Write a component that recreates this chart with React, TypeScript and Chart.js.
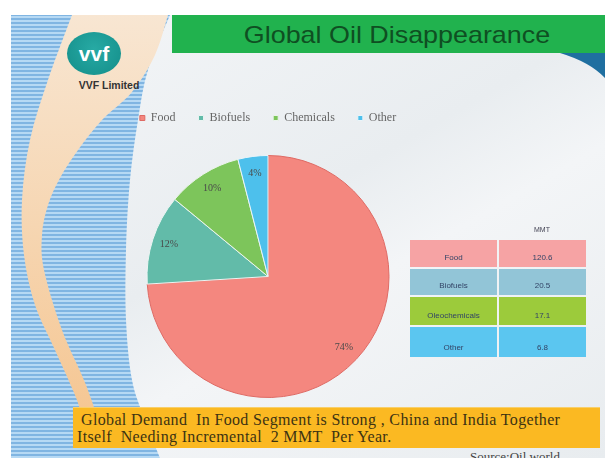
import React, { useEffect, useRef } from "react";
import { Chart, registerables } from "chart.js";

Chart.register(...registerables);

// ---- data ----
const categories = ["Food", "Biofuels", "Chemicals", "Other"];
const shares = [74, 12, 10, 4];
const shareLabels = ["74%", "12%", "10%", "4%"];
const tableHeader = "MMT";
const tableLabels = ["Food", "Biofuels", "Oleochemicals", "Other"];
const tableValues = ["120.6", "20.5", "17.1", "6.8"];

const sliceColors = ["#F4877F", "#62BBA9", "#7DC55B", "#4DC0EC"];
const sliceBorders = ["#DE6A64", "#EAF4F2", "#EAF4EA", "#EAF4F8"];
const tableColors = ["#F6A3A4", "#92C5D7", "#9CCB3B", "#5BC6F0"];

const titleText = "Global Oil Disappearance";
const noteLine1 = "Global Demand  In Food Segment is Strong , China and India Together";
const noteLine2 = "Itself  Needing Incremental  2 MMT  Per Year.";
const sourceText = "Source:Oil world";

function smooth(pts: number[][]): string {
  let d = `M${pts[0][0]},${pts[0][1]}`;
  for (let i = 0; i < pts.length - 1; i++) {
    const p0 = pts[i - 1] || pts[i];
    const p1 = pts[i];
    const p2 = pts[i + 1];
    const p3 = pts[i + 2] || p2;
    const c1x = p1[0] + (p2[0] - p0[0]) / 6;
    const c1y = p1[1] + (p2[1] - p0[1]) / 6;
    const c2x = p2[0] - (p3[0] - p1[0]) / 6;
    const c2y = p2[1] - (p3[1] - p1[1]) / 6;
    d += ` C${c1x},${c1y} ${c2x},${c2y} ${p2[0]},${p2[1]}`;
  }
  return d;
}

const pctPlugin = {
  id: "pctLabels",
  afterDatasetsDraw(chart: any) {
    const ctx = chart.ctx;
    const meta = chart.getDatasetMeta(0);
    ctx.save();
    ctx.font = "10px 'Liberation Serif'";
    ctx.fillStyle = "#4a4a4a";
    ctx.textAlign = "center";
    ctx.textBaseline = "middle";
    meta.data.forEach((arc: any, i: number) => {
      const p = arc.getProps(["x", "y", "startAngle", "endAngle", "outerRadius"], true);
      const mid = (p.startAngle + p.endAngle) / 2;
      const r = p.outerRadius * 0.86;
      ctx.fillText(shareLabels[i], p.x + Math.cos(mid) * r, p.y + Math.sin(mid) * r);
    });
    ctx.restore();
  },
};

// adds a gap below the legend
const legendGap = {
  id: "legendGap",
  beforeInit(chart: any) {
    const legend = chart.legend;
    if (!legend) return;
    const orig = legend.fit;
    legend.fit = function () {
      orig.call(this);
      this.height += 21;
    };
  },
};

function PieChart() {
  const ref = useRef<HTMLCanvasElement>(null);
  useEffect(() => {
    const chart = new Chart(ref.current!, {
      type: "pie",
      data: {
        labels: categories,
        datasets: [
          {
            data: shares,
            backgroundColor: sliceColors,
            borderColor: sliceBorders,
            borderWidth: 1,
          },
        ],
      },
      options: {
        animation: false,
        responsive: false,
        maintainAspectRatio: false,
        layout: { padding: 0 },
        plugins: {
          legend: {
            position: "top",
            labels: {
              font: { family: "'Liberation Serif'", size: 12 },
              color: "#666",
              boxWidth: 5,
              boxHeight: 5,
              padding: 23,
            },
          },
          tooltip: { enabled: false },
        },
      },
      plugins: [legendGap, pctPlugin],
    });
    return () => chart.destroy();
  }, []);
  return (
    <canvas
      ref={ref}
      width={320}
      height={309}
      style={{ position: "absolute", left: 108, top: 89, width: 320, height: 309 }}
    />
  );
}

export default function App() {
  const peach = smooth([
    [72, 15], [48, 80], [30, 140], [22, 200], [24, 255], [35, 305], [55, 350], [75, 395], [88, 430],
    [100, 430], [86, 385], [62, 330], [44, 270], [42, 235], [48, 205], [60, 178], [78, 150], [102, 120], [132, 92], [155, 55], [168, 15],
  ]) + " Z";
  const stripesArea =
    smooth([[170, 15], [148, 70], [138, 120], [130, 180], [126, 250], [126, 320], [132, 380], [145, 420], [160, 458]]) +
    " L11,458 L11,15 Z";
  return (
    <div style={{ position: "fixed", left: 0, top: 0, width: 605, height: 458, background: "#fff", overflow: "hidden" }}>
      <div
        style={{
          position: "absolute",
          left: 11,
          top: 15,
          width: 594,
          height: 443,
          background: "linear-gradient(150deg, #f4f6f8 0%, #e9edf0 45%, #f3f5f7 60%, #e8ecef 100%)",
        }}
      />
      <svg width={605} height={458} style={{ position: "absolute", left: 0, top: 0 }}>
        <defs>
          <pattern id="stripes" width="8" height="4" patternUnits="userSpaceOnUse">
            <rect width="8" height="4" fill="#80b5e2" />
            <rect width="8" height="2" fill="#b6d9f4" />
          </pattern>
          <linearGradient id="peachG" x1="0" y1="0" x2="0" y2="1">
            <stop offset="0" stopColor="#f8e6d2" />
            <stop offset="0.5" stopColor="#f6d6b2" />
            <stop offset="1" stopColor="#f5c590" />
          </linearGradient>
          <clipPath id="slide">
            <rect x="11" y="15" width="594" height="443" />
          </clipPath>
        </defs>
        <g clipPath="url(#slide)">
          <path d={stripesArea} fill="url(#stripes)" />
          <path d={peach} fill="url(#peachG)" />
          <path d="M560,53 L605,53 L605,78 Q590,62 560,53 Z" fill="#1f6fa0" />
        </g>
      </svg>
      {/* title banner */}
      <div
        style={{
          position: "absolute",
          left: 172,
          top: 15,
          width: 433,
          height: 38,
          background: "#21B24E",
        }}
      />
      <div
        style={{
          position: "absolute",
          left: 172,
          top: 15,
          width: 450,
          height: 38,
          lineHeight: "40px",
          textAlign: "center",
          fontFamily: "'Liberation Sans', Arial, sans-serif",
          fontSize: 24,
          color: "#0f4f22",
          transform: "scaleX(1.12)",
          transformOrigin: "225px 0",
          whiteSpace: "nowrap",
        }}
      >
        {titleText}
      </div>
      {/* logo */}
      <div
        style={{
          position: "absolute",
          left: 67,
          top: 32,
          width: 54,
          height: 43,
          borderRadius: "50%",
          background: "radial-gradient(ellipse at 50% 40%, #27aaa4 0%, #138d89 100%)",
          color: "#fff",
          fontFamily: "'Liberation Sans', Arial, sans-serif",
          fontWeight: "bold",
          fontSize: 21,
          textAlign: "center",
          lineHeight: "43px",
        }}
      >
        vvf
      </div>
      <div
        style={{
          position: "absolute",
          left: 64,
          top: 79,
          width: 90,
          textAlign: "center",
          fontFamily: "'Liberation Sans', Arial, sans-serif",
          fontWeight: "bold",
          fontSize: 10.5,
          color: "#333",
        }}
      >
        VVF Limited
      </div>
      <PieChart />
      {/* table */}
      <div style={{ position: "absolute", left: 410, top: 222, width: 176 }}>
        <div
          style={{
            display: "flex",
            height: 16,
            fontFamily: "'Liberation Sans', Arial, sans-serif",
            fontSize: 7,
            color: "#445",
          }}
        >
          <div style={{ width: 88 }} />
          <div style={{ width: 88, textAlign: "center", lineHeight: "16px" }}>{tableHeader}</div>
        </div>
        {tableLabels.map((lab, i) => (
          <div key={lab} style={{ display: "flex", height: [27, 26, 28, 30][i], marginTop: 2 }}>
            {[lab, tableValues[i]].map((t, j) => (
              <div
                key={j}
                style={{
                  width: 87,
                  marginLeft: j === 1 ? 2 : 0,
                  background: tableColors[i],
                  fontFamily: "'Liberation Sans', Arial, sans-serif",
                  fontSize: 8,
                  color: "#334466",
                  textAlign: "center",
                  display: "flex",
                  alignItems: "flex-end",
                  justifyContent: "center",
                  paddingBottom: 5,
                  boxSizing: "border-box",
                }}
              >
                {t}
              </div>
            ))}
          </div>
        ))}
      </div>
      {/* note box */}
      <div
        style={{
          position: "absolute",
          left: 73,
          top: 407,
          width: 527,
          height: 41,
          background: "#FBB922",
          borderTop: "1px solid #f7cf6a",
          boxSizing: "border-box",
          fontFamily: "'Liberation Serif', serif",
          fontSize: 16,
          letterSpacing: 0.35,
          color: "#3d3312",
          lineHeight: "17px",
          padding: "3px 0 0 8px",
          whiteSpace: "pre",
        }}
      >
        <div>{noteLine1}</div>
        <div style={{ marginLeft: -4 }}>{noteLine2}</div>
      </div>
      <div
        style={{
          position: "absolute",
          left: 470,
          top: 449,
          fontFamily: "'Liberation Serif', serif",
          fontSize: 13,
          color: "#444",
          whiteSpace: "nowrap",
        }}
      >
        {sourceText}
      </div>
    </div>
  );
}
